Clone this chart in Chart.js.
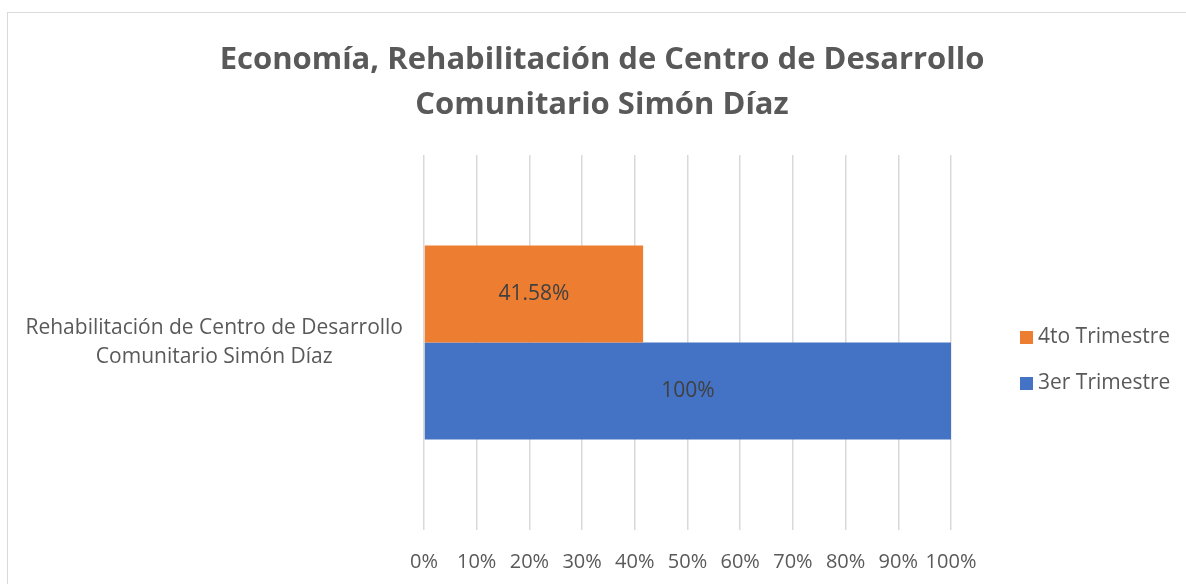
<!DOCTYPE html>
<html>
<head>
<meta charset="utf-8">
<script src="https://cdn.jsdelivr.net/npm/chart.js@4.4.0/dist/chart.umd.min.js"></script>
<style>
  html, body { margin: 0; padding: 0; background: #fff; overflow: hidden; }
  #frame { position: absolute; left: 7px; top: 12px; width: 1200px; height: 600px; border: 1px solid #d9d9d9; }
  #wrap { position: absolute; left: 0; top: 0; width: 1186px; height: 584px; }
  #legend { position: absolute; left: 1020px; top: 323px; margin: 0; padding: 0; list-style: none;
            font: 21px 'Open Sans', sans-serif; color: #595959; }
  #legend li { height: 46px; line-height: 24px; white-space: nowrap; }
  #legend span { display: inline-block; width: 13px; height: 13px; margin-right: 5px; vertical-align: -1px; }
</style>
</head>
<body>
<div id="frame"></div>
<div id="wrap"><canvas id="chart"></canvas></div>
<ul id="legend"></ul>
<script>
const categories = [['Rehabilitación de Centro de Desarrollo', 'Comunitario Simón Díaz']];
const series4to = [41.58];
const series3er = [100];
const seriesNames = ['4to Trimestre', '3er Trimestre'];
const seriesColors = ['#ED7D31', '#4472C4'];
const titleLines = ['Economía, Rehabilitación de Centro de Desarrollo', 'Comunitario Simón Díaz'];

const FONT = "'Open Sans', sans-serif";
const TEXT = '#595959';

// draws the value in the middle of each bar
const barValues = {
    id: 'barValues',
    afterDatasetsDraw(chart) {
        const ctx = chart.ctx;
        ctx.save();
        ctx.font = '21px ' + FONT;
        ctx.fillStyle = '#404040';
        ctx.textAlign = 'center';
        ctx.textBaseline = 'middle';
        chart.data.datasets.forEach((ds, i) => {
            chart.getDatasetMeta(i).data.forEach((bar, j) => {
                ctx.fillText(ds.data[j] + '%', (bar.x + bar.base) / 2, bar.y);
            });
        });
        ctx.restore();
    }
};

const chart = new Chart(document.getElementById('chart'), {
    type: 'bar',
    data: {
        labels: categories,
        datasets: [
            { label: seriesNames[0], data: series4to, backgroundColor: seriesColors[0] },
            { label: seriesNames[1], data: series3er, backgroundColor: seriesColors[1] }
        ]
    },
    options: {
        indexAxis: 'y',
        responsive: true,
        maintainAspectRatio: false,
        animation: false,
        layout: { padding: { left: 18, right: 0, top: 0, bottom: 0 } },
        datasets: { bar: { categoryPercentage: 0.517, barPercentage: 1 } },
        plugins: {
            title: {
                display: true,
                text: titleLines,
                color: TEXT,
                font: { family: FONT, size: 31, weight: 'bold', lineHeight: 1.45 },
                padding: { top: 38, bottom: 27 }
            },
            legend: { display: false },
            tooltip: { enabled: false }
        },
        scales: {
            x: {
                min: 0,
                max: 100,
                ticks: {
                    stepSize: 10,
                    color: TEXT,
                    font: { family: FONT, size: 20 },
                    padding: 20,
                    callback: v => v + '%'
                },
                grid: { color: '#d9d9d9', lineWidth: 1.5, drawTicks: false },
                border: { display: false },
                afterFit: s => { s.height = 54; s.paddingRight = 235; }
            },
            y: {
                ticks: {
                    color: TEXT,
                    font: { family: FONT, size: 21, lineHeight: 1.35 },
                    padding: 13,
                    crossAlign: 'center'
                },
                grid: { display: false },
                border: { display: false },
                afterFit: s => { s.width = 406; }
            }
        }
    },
    plugins: [barValues]
});

// legend on the right, top item is the top bar
const legendEl = document.getElementById('legend');
chart.data.datasets.forEach(ds => {
    const li = document.createElement('li');
    const box = document.createElement('span');
    box.style.background = ds.backgroundColor;
    li.appendChild(box);
    li.appendChild(document.createTextNode(ds.label));
    legendEl.appendChild(li);
});
</script>
</body>
</html>
